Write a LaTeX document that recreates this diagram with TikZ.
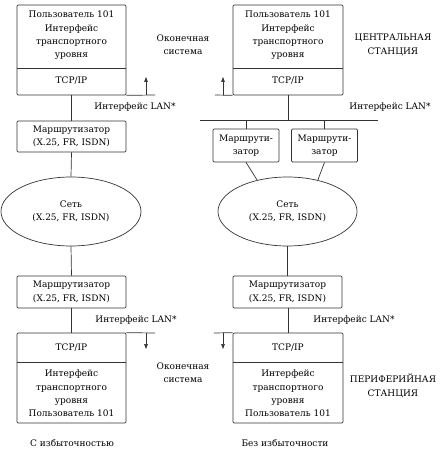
\documentclass[tikz,border=0pt]{standalone}
\usepackage{fontspec}
\setmainfont{DejaVu Serif}
\usetikzlibrary{shapes.geometric,arrows.meta}
\begin{document}
\begin{tikzpicture}[x=1pt,y=-1pt,
  ln/.style={draw=black!80,line width=0.7pt},
  box/.style={ln,rectangle,rounded corners=1.2pt,inner sep=0pt},
  net/.style={ln,ellipse,inner sep=0pt},
  txt/.style={font=\fontsize{9}{13.4}\selectfont,align=center,inner sep=0pt,text=black},
  tip/.style={ln,-{Triangle[length=5pt,width=3.6pt]}}]
\useasboundingbox (0,0) rectangle (440,454);
% ---- left column
\node[box,minimum width=109pt,minimum height=90pt] (tl) at (71.5,50) {};
\draw[ln] (tl.west |- 0,68) -- (tl.east |- 0,68);
\node[txt] (tlt) at (71.5,35.5) {Пользователь 101\\Интерфейс\\транспортного\\уровня};
\node[txt] (tlip) at (71.5,81) {TCP/IP};
\node[box,minimum width=109pt,minimum height=31pt,txt] (r1) at (71.5,136.5) {Маршрутизатор\\(X.25, FR, ISDN)};
\node[net,minimum width=140pt,minimum height=69pt,txt] (n1) at (71,211.5) {Сеть\\(X.25, FR, ISDN)};
\node[box,minimum width=109pt,minimum height=32pt,txt] (r3) at (71.5,292) {Маршрутизатор\\(X.25, FR, ISDN)};
\node[box,minimum width=109pt,minimum height=90pt] (bl) at (71.5,378) {};
\draw[ln] (bl.west |- 0,362) -- (bl.east |- 0,362);
\node[txt] (blip) at (71.5,348) {TCP/IP};
\node[txt] (blt) at (71.5,393.5) {Интерфейс\\транспортного\\уровня\\Пользователь 101};
\draw[ln] (tl.south) -- (r1.north);
\draw[ln] (r1.south) -- (n1.north);
\draw[ln] (n1.south) -- (r3.north);
\draw[ln] (r3.south) -- (bl.north);
% ---- right column
\node[box,minimum width=110pt,minimum height=90pt] (tr) at (288,50) {};
\draw[ln] (tr.west |- 0,68) -- (tr.east |- 0,68);
\node[txt] (trt) at (288,35.5) {Пользователь 101\\Интерфейс\\транспортного\\уровня};
\node[txt] (trip) at (288,81) {TCP/IP};
\coordinate (busl) at (200,120);
\coordinate (busr) at (378,120);
\coordinate (busm) at (288,120);
\draw[ln] (busl) -- (busr);
\draw[ln] (tr.south) -- (busm);
\node[box,minimum width=66pt,minimum height=33pt,txt] (s1) at (246,145.5) {Маршрути-\\затор};
\node[box,minimum width=66pt,minimum height=33pt,txt] (s2) at (324.5,145.5) {Маршрути-\\затор};
\draw[ln] (s1.north |- busl) -- (s1.north);
\draw[ln] (s2.north |- busl) -- (s2.north);
\node[net,minimum width=139pt,minimum height=69pt,txt] (n2) at (287.5,211.5) {Сеть\\(X.25, FR, ISDN)};
\draw[ln] (s1.south) -- (n2.134);
\draw[ln] (s2.south) -- (n2.46);
\node[box,minimum width=109pt,minimum height=32pt,txt] (r4) at (287.5,292) {Маршрутизатор\\(X.25, FR, ISDN)};
\node[box,minimum width=110pt,minimum height=90pt] (br) at (288,378) {};
\draw[ln] (br.west |- 0,362) -- (br.east |- 0,362);
\node[txt] (brip) at (288,348) {TCP/IP};
\node[txt] (brt) at (288,393.5) {Интерфейс\\транспортного\\уровня\\Пользователь 101};
\draw[ln] (n2.south) -- (r4.north);
\draw[ln] (r4.south -| br.north) -- (br.north);
% ---- end-system arrows
\coordinate (a1) at (155,95);
\coordinate (a2) at (215,95);
\coordinate (a3) at (155,333);
\coordinate (a4) at (214,333);
\draw[ln] (tl.south east) -- (a1);
\draw[ln] (a2) -- (tr.south west);
\draw[ln] (bl.north east) -- (a3);
\draw[ln] (a4) -- (br.north west);
\coordinate (u1) at (146,95); \coordinate (u1e) at (146,77);
\coordinate (u2) at (223,95); \coordinate (u2e) at (223,77);
\coordinate (d1) at (146,333); \coordinate (d1e) at (146,349);
\coordinate (d2) at (223,333); \coordinate (d2e) at (223,349);
\draw[tip] (u1) -- (u1e);
\draw[tip] (u2) -- (u2e);
\draw[tip] (d1) -- (d1e);
\draw[tip] (d2) -- (d2e);
% ---- labels
\node[txt] (es1) at (183,44.5) {Оконечная\\система};
\node[txt] (es2) at (183,372.5) {Оконечная\\система};
\node[txt] (cs) at (393,45) {ЦЕНТРАЛЬНАЯ\\СТАНЦИЯ};
\node[txt] (ps) at (393,386) {ПЕРИФЕРИЙНАЯ\\СТАНЦИЯ};
\node[txt] (lan1) at (135,107) {Интерфейс LAN*};
\node[txt] (lan2) at (390,107) {Интерфейс LAN*};
\node[txt] (lan3) at (136,320) {Интерфейс LAN*};
\node[txt] (lan4) at (354,320) {Интерфейс LAN*};
\node[txt] (c1) at (72,443) {С избыточностью};
\node[txt] (c2) at (285,443) {Без избыточности};
\end{tikzpicture}
\end{document}
